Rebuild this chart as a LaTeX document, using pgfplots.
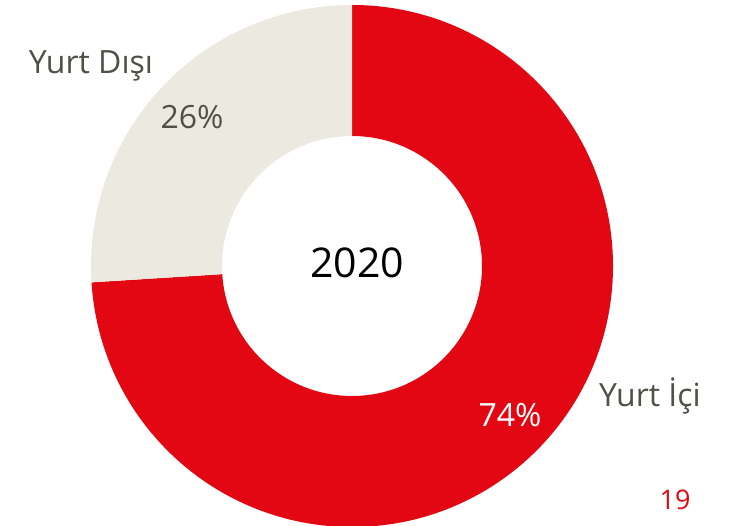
\documentclass[border=0pt]{standalone}
\usepackage{pgfplots}
\usepackage{pgfplotstable}
\usepackage{fontspec}
\setmainfont{Open Sans}
\pgfplotsset{compat=1.18}
\definecolor{domred}{HTML}{E30613}
\definecolor{abroad}{HTML}{ECEAE0}
\definecolor{labelgray}{HTML}{505047}

% shares in percent, clockwise from 12 o'clock
\pgfplotstableread{
share
74
26
}\shares

\begin{document}
\begin{tikzpicture}
  \pgfplotstablegetelem{0}{share}\of\shares \let\sA\pgfplotsretval
  \pgfplotstablegetelem{1}{share}\of\shares \let\sB\pgfplotsretval
  \pgfmathsetmacro{\aStart}{90}
  \pgfmathsetmacro{\aMid}{90-3.6*\sA}
  \pgfmathsetmacro{\aEnd}{\aMid-3.6*\sB}
  \begin{axis}[
    x=1bp, y=1bp,
    xmin=0, xmax=738, ymin=0, ymax=526,
    hide axis,
    clip=false,
  ]
    \begin{scope}[shift={(axis cs:352,260)}]
      \fill[domred] (\aStart:261bp) arc[start angle=\aStart, end angle=\aMid, radius=261bp]
        -- (\aMid:130bp) arc[start angle=\aMid, end angle=\aStart, radius=130bp] -- cycle;
      \fill[abroad] (\aMid:261bp) arc[start angle=\aMid, end angle=\aEnd, radius=261bp]
        -- (\aEnd:130bp) arc[start angle=\aEnd, end angle=\aMid, radius=130bp] -- cycle;
    \end{scope}
    \node[anchor=base, font=\fontsize{41bp}{49bp}\selectfont] at (axis cs:357,248) {2020};
    \node[anchor=base, text=labelgray, font=\fontsize{32bp}{38bp}\selectfont] at (axis cs:91,452) {Yurt Dışı};
    \node[anchor=base, text=labelgray, font=\fontsize{32bp}{38bp}\selectfont] at (axis cs:192,397) {\sB\%};
    \node[anchor=base, text=labelgray, font=\fontsize{32bp}{38bp}\selectfont] at (axis cs:650,119) {Yurt İçi};
    \node[anchor=base, text=white, font=\fontsize{32bp}{38bp}\selectfont] at (axis cs:510,99) {\sA\%};
    \node[anchor=base, text=domred, font=\fontsize{27bp}{32bp}\selectfont] at (axis cs:675,16) {19};
  \end{axis}
  \pgfresetboundingbox
  \useasboundingbox (current axis.south west) rectangle (current axis.north east);
\end{tikzpicture}
\end{document}
